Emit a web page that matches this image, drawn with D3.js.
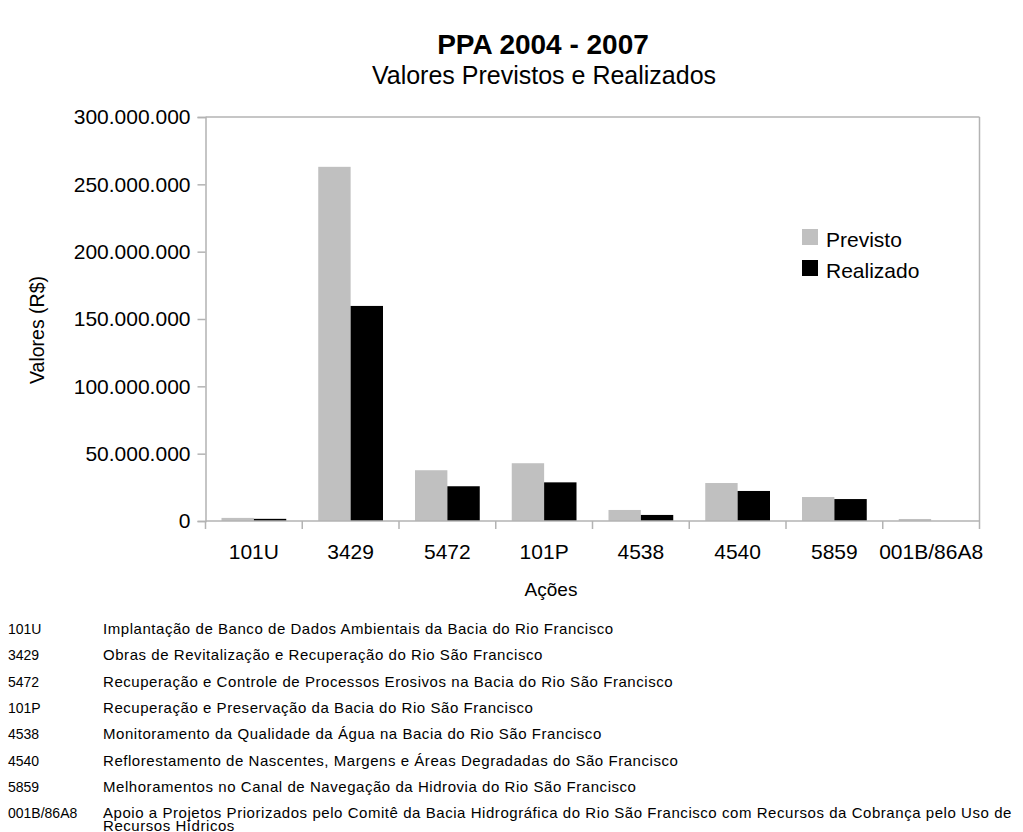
<!DOCTYPE html>
<html>
<head>
<meta charset="utf-8">
<script src="https://cdn.jsdelivr.net/npm/d3@7"></script>
<style>
  body { margin: 0; background: #fff; }
  svg { display: block; font-family: "Liberation Sans", Arial, sans-serif; }
</style>
</head>
<body>
<svg id="chart" width="1023" height="832"></svg>
<script>
const categories = ["101U", "3429", "5472", "101P", "4538", "4540", "5859", "001B/86A8"];
const previsto  = [2300000, 263000000, 37700000, 42900000, 8200000, 28200000, 17800000, 1500000];
const realizado = [1600000, 159700000, 25800000, 28700000, 4500000, 22300000, 16300000, 0];
const seriesNames = ["Previsto", "Realizado"];
const seriesColors = ["#c0c0c0", "#000000"];
const yTicks = [0, 50000000, 100000000, 150000000, 200000000, 250000000, 300000000];
const descriptions = [
  ["Implantação de Banco de Dados Ambientais da Bacia do Rio Francisco"],
  ["Obras de Revitalização e Recuperação do Rio São Francisco"],
  ["Recuperação e Controle de Processos Erosivos na Bacia do Rio São Francisco"],
  ["Recuperação e Preservação da Bacia do Rio São Francisco"],
  ["Monitoramento da Qualidade da Água na Bacia do Rio São Francisco"],
  ["Reflorestamento de Nascentes, Margens e Áreas Degradadas do São Francisco"],
  ["Melhoramentos no Canal de Navegação da Hidrovia do Rio São Francisco"],
  ["Apoio a Projetos Priorizados pelo Comitê da Bacia Hidrográfica do Rio São Francisco com Recursos da Cobrança pelo Uso de", "Recursos Hídricos"]
];

const svg = d3.select("#chart");
const m = {left: 205.5, right: 979.5, top: 117, bottom: 521};
const axisColor = "#b3b3b3";

const x = d3.scaleBand().domain(categories).range([m.left, m.right]).paddingInner(0).paddingOuter(0);
const inner = d3.scaleBand().domain(seriesNames).range([16, x.bandwidth() - 16]).padding(0);
const y = d3.scaleLinear().domain([0, 300000000]).range([m.bottom, m.top]);

const fmt = v => d3.format(",")(v).replace(/,/g, ".");

// Title
svg.append("text").attr("x", 543).attr("y", 54).attr("text-anchor", "middle")
  .style("font-size", "28px").style("font-weight", "bold").text("PPA 2004 - 2007");
svg.append("text").attr("x", 544).attr("y", 84).attr("text-anchor", "middle")
  .style("font-size", "25px").text("Valores Previstos e Realizados");

// Plot frame (top & right)
svg.append("line").attr("x1", m.left).attr("x2", m.right).attr("y1", m.top).attr("y2", m.top)
  .attr("stroke", axisColor).attr("stroke-width", 1.5);
svg.append("line").attr("x1", m.right).attr("x2", m.right).attr("y1", m.top).attr("y2", m.bottom)
  .attr("stroke", axisColor).attr("stroke-width", 1.5);

// Bars
const data = categories.map((c, i) => ({cat: c, vals: [previsto[i], realizado[i]]}));
const g = svg.append("g");
data.forEach(d => {
  d.vals.forEach((v, j) => {
    g.append("rect")
      .attr("x", x(d.cat) + inner(seriesNames[j]))
      .attr("width", inner.bandwidth())
      .attr("y", y(v))
      .attr("height", m.bottom - y(v))
      .attr("fill", seriesColors[j]);
  });
});

// Y axis
const yAxis = d3.axisLeft(y).tickValues(yTicks).tickFormat(fmt).tickSize(8).tickPadding(7);
const ya = svg.append("g").attr("transform", `translate(${m.left},0)`).call(yAxis);
ya.select(".domain").attr("stroke", axisColor).attr("stroke-width", 1.5);
ya.selectAll(".tick line").attr("stroke", axisColor).attr("stroke-width", 1.5);
ya.selectAll(".tick text").style("font-size", "21px").attr("fill", "#000").style("font-family", "Liberation Sans, Arial, sans-serif");

// X axis: ticks at category boundaries
const xa = svg.append("g").attr("transform", `translate(0,${m.bottom})`);
xa.append("line").attr("x1", m.left).attr("x2", m.right).attr("stroke", axisColor).attr("stroke-width", 1.5);
const bounds = categories.map(c => x(c)).concat([m.right]);
xa.selectAll("line.tk").data(bounds).enter().append("line").attr("class", "tk")
  .attr("x1", d => d).attr("x2", d => d).attr("y1", 0).attr("y2", 8)
  .attr("stroke", axisColor).attr("stroke-width", 1.5);
xa.selectAll("text").data(categories).enter().append("text")
  .attr("x", d => x(d) + x.bandwidth() / 2).attr("y", 38)
  .attr("text-anchor", "middle").style("font-size", "21px").text(d => d);

// Axis titles
svg.append("text").attr("x", 551).attr("y", 596).attr("text-anchor", "middle")
  .style("font-size", "19px").text("Ações");
svg.append("text").attr("transform", "translate(44,330) rotate(-90)").attr("text-anchor", "middle")
  .style("font-size", "19.5px").text("Valores (R$)");

// Legend
const lg = svg.append("g");
seriesNames.forEach((s, i) => {
  lg.append("rect").attr("x", 802).attr("y", 229 + i * 31).attr("width", 16).attr("height", 16).attr("fill", seriesColors[i]);
  lg.append("text").attr("x", 826).attr("y", 247 + i * 31).style("font-size", "21px").text(s);
});

// Footnotes
const fn = svg.append("g");
categories.forEach((c, i) => {
  const yy = 634 + i * 26.3;
  fn.append("text").attr("x", 8).attr("y", yy).style("font-size", "14px").text(c);
  descriptions[i].forEach((line, k) => {
    fn.append("text").attr("x", 103).attr("y", yy + k * 12.5)
      .style("font-size", "15px").style("letter-spacing", "0.55px").text(line);
  });
});
</script>
</body>
</html>
